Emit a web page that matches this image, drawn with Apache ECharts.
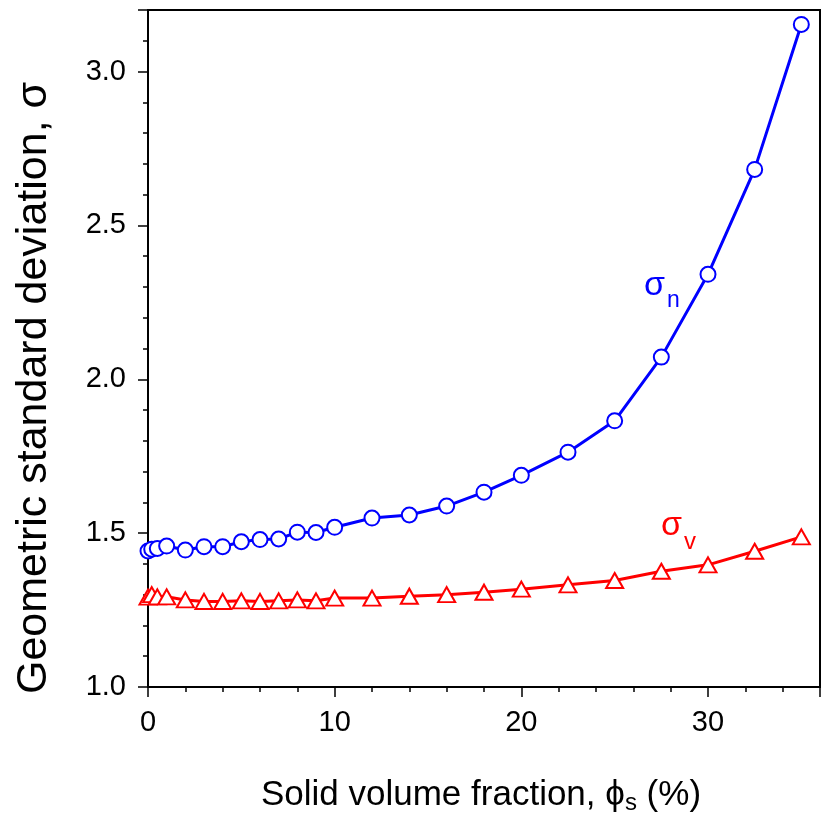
<!DOCTYPE html>
<html>
<head>
<meta charset="utf-8">
<script src="https://cdn.jsdelivr.net/npm/echarts@6/dist/echarts.min.js"></script>
<style>
html,body{margin:0;padding:0;background:#fff;}
#chart{width:824px;height:821px;}
</style>
</head>
<body>
<div id="chart"></div>
<script>
// Solid volume fraction (%)
var phiS = [0, 0.2, 0.5, 1, 2, 3, 4, 5, 6, 7, 8, 9, 10, 12, 14, 16, 18, 20, 22.5, 25, 27.5, 30, 32.5, 35];
// Geometric standard deviation, number based
var sigmaN = [1.442, 1.448, 1.450, 1.458, 1.445, 1.456, 1.456, 1.472, 1.479, 1.481, 1.503, 1.502, 1.519, 1.549, 1.559, 1.588, 1.633, 1.688, 1.763, 1.865, 2.072, 2.341, 2.682, 3.153];
// Geometric standard deviation, volume based
var sigmaV = [1.292, 1.300, 1.293, 1.293, 1.283, 1.278, 1.278, 1.280, 1.278, 1.280, 1.283, 1.280, 1.289, 1.289, 1.295, 1.300, 1.308, 1.318, 1.332, 1.346, 1.376, 1.397, 1.441, 1.488];
var xTickLabels = ['0', '10', '20', '30'];
var yTickLabels = ['1.0', '1.5', '2.0', '2.5', '3.0'];

var FONT = '"Liberation Sans", Arial, Helvetica, sans-serif';
function pairs(xs, ys) { return xs.map(function (x, i) { return [x, ys[i]]; }); }

var chart = echarts.init(document.getElementById('chart'), null, { renderer: 'canvas' });
var option = {
  animation: false,
  backgroundColor: '#fff',
  grid: { left: 148, top: 10, right: 4, bottom: 134, show: true, borderColor: '#000', borderWidth: 2, backgroundColor: 'transparent' },
  xAxis: [
    {
      type: 'value', min: 0, max: 36, interval: 10, position: 'bottom',
      axisLine: { show: true, onZero: false, lineStyle: { color: '#000', width: 2 } },
      axisTick: { show: true, length: 10, lineStyle: { color: '#000', width: 1.5 } },
      axisLabel: {
        show: true, margin: 21, color: '#000', fontSize: 29, fontFamily: FONT, showMaxLabel: true,
        formatter: function (v) { var s = String(v); return xTickLabels.indexOf(s) >= 0 ? s : ''; }
      },
      splitLine: { show: false }
    },
    {
      type: 'value', min: 0, max: 36, interval: 2, position: 'bottom',
      axisLine: { show: false, onZero: false },
      axisTick: { show: true, length: 5, lineStyle: { color: '#000', width: 1.5 } },
      axisLabel: { show: false },
      splitLine: { show: false }
    }
  ],
  yAxis: [
    {
      type: 'value', min: 1.0, max: 3.2, interval: 0.5, position: 'left',
      axisLine: { show: true, onZero: false, lineStyle: { color: '#000', width: 2 } },
      axisTick: { show: true, length: 10, lineStyle: { color: '#000', width: 1.5 } },
      axisLabel: {
        show: true, margin: 22, color: '#000', fontSize: 29, fontFamily: FONT,
        formatter: function (v) { var s = v.toFixed(1); return yTickLabels.indexOf(s) >= 0 ? s : ''; }
      },
      splitLine: { show: false }
    },
    {
      type: 'value', min: 1.0, max: 3.2, interval: 0.1, position: 'left',
      axisLine: { show: false, onZero: false },
      axisTick: { show: true, length: 5, lineStyle: { color: '#000', width: 1.5 } },
      axisLabel: { show: false },
      splitLine: { show: false }
    }
  ],
  series: [
    {
      name: 'sigma_v', type: 'line', xAxisIndex: 0, yAxisIndex: 0,
      data: pairs(phiS, sigmaV),
      symbol: 'triangle', symbolSize: [17, 15], showAllSymbol: true,
      lineStyle: { color: '#ff0000', width: 3 },
      itemStyle: { color: '#fff', borderColor: '#ff0000', borderWidth: 2 },
      z: 3
    },
    {
      name: 'sigma_n', type: 'line', xAxisIndex: 0, yAxisIndex: 0,
      data: pairs(phiS, sigmaN),
      symbol: 'circle', symbolSize: 15, showAllSymbol: true,
      lineStyle: { color: '#0000ff', width: 3 },
      itemStyle: { color: '#fff', borderColor: '#0000ff', borderWidth: 2 },
      z: 4
    }
  ],
  graphic: [
    {
      type: 'text', x: 34, y: 388, rotation: Math.PI / 2,
      style: { text: 'Geometric standard deviation, σ', font: '43px ' + FONT, fill: '#000', align: 'center', verticalAlign: 'middle' }
    },
    {
      type: 'text', x: 481, y: 795,
      style: {
        text: '{t|Solid volume fraction, ϕ}{s|s}{t| (%)}',
        align: 'center', verticalAlign: 'middle', fill: '#000',
        rich: {
          t: { fontSize: 35, fontFamily: FONT, fill: '#000', lineHeight: 40 },
          s: { fontSize: 24, fontFamily: FONT, fill: '#000', lineHeight: 22, verticalAlign: 'bottom' }
        }
      }
    },
    { type: 'text', x: 644, y: 286, style: { text: 'σ', font: '34px ' + FONT, fill: '#0000ff', align: 'left', verticalAlign: 'middle' } },
    { type: 'text', x: 667, y: 301, style: { text: 'n', font: '23px ' + FONT, fill: '#0000ff', align: 'left', verticalAlign: 'middle' } },
    { type: 'text', x: 661, y: 526, style: { text: 'σ', font: '34px ' + FONT, fill: '#ff0000', align: 'left', verticalAlign: 'middle' } },
    { type: 'text', x: 684, y: 542, style: { text: 'v', font: '24px ' + FONT, fill: '#ff0000', align: 'left', verticalAlign: 'middle' } }
  ]
};
chart.setOption(option);
</script>
</body>
</html>
